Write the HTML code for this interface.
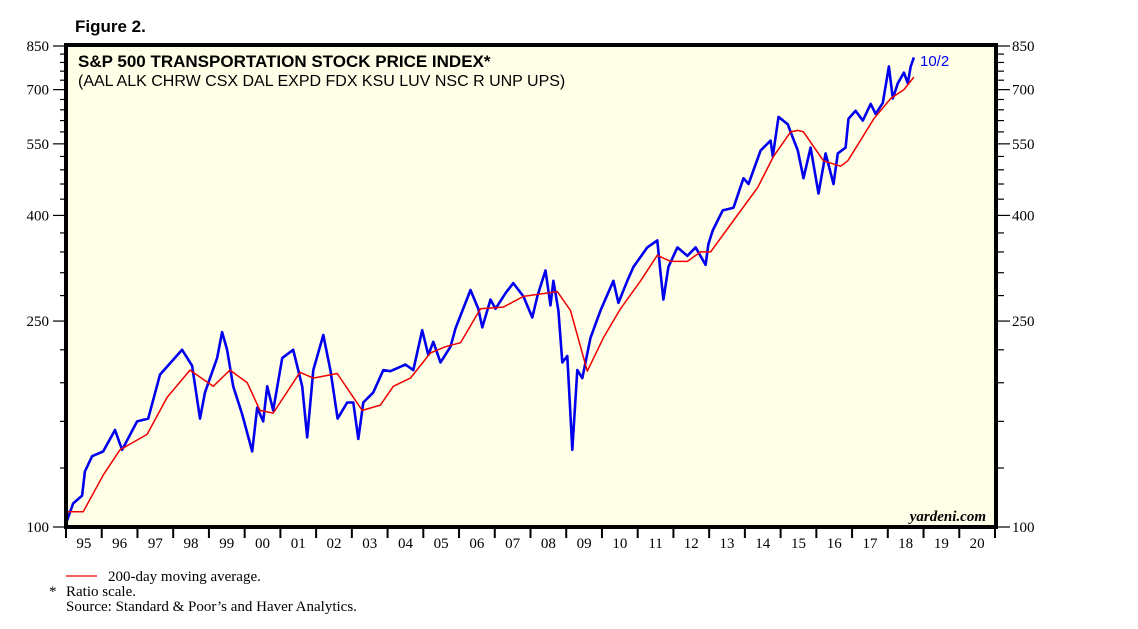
<!DOCTYPE html>
<html><head><meta charset="utf-8"><style>
body{margin:0;background:#fff;width:1138px;height:629px;overflow:hidden}
svg{display:block}
</style></head><body>
<svg id="chart" width="1138" height="629" xmlns="http://www.w3.org/2000/svg">
<text x="75" y="32" font-family="Liberation Sans, sans-serif" font-size="17" font-weight="bold">Figure 2.</text>
<rect x="66" y="45" width="930" height="482" fill="#FFFFE8"/>
<g id="axes"></g>
<g id="series"></g>
<rect x="66" y="45" width="930" height="482" fill="none" stroke="#000" stroke-width="4"/>
<text x="78" y="67" font-family="Liberation Sans, sans-serif" font-size="17" font-weight="bold">S&amp;P 500 TRANSPORTATION STOCK PRICE INDEX*</text>
<text x="78" y="86" font-family="Liberation Sans, sans-serif" font-size="16">(AAL ALK CHRW CSX DAL EXPD FDX KSU LUV NSC R UNP UPS)</text>
<text x="920" y="66" font-family="Liberation Sans, sans-serif" font-size="15" fill="#0000ee">10/2</text>
<text x="986" y="521" text-anchor="end" font-family="Liberation Serif, serif" font-size="15" font-weight="bold" font-style="italic">yardeni.com</text>
<line x1="66" y1="576" x2="97" y2="576" stroke="#e00" stroke-width="1.2"/>
<text x="108" y="581" font-family="Liberation Serif, serif" font-size="15">200-day moving average.</text>
<text x="49" y="596" font-family="Liberation Serif, serif" font-size="15">*</text>
<text x="66" y="596" font-family="Liberation Serif, serif" font-size="15">Ratio scale.</text>
<text x="66" y="611" font-family="Liberation Serif, serif" font-size="15">Source: Standard &amp; Poor’s and Haver Analytics.</text>
</svg>
<script>
const priceDates=[1995.03,1995.2,1995.45,1995.53,1995.73,1996.04,1996.37,1996.57,1996.99,1997.3,1997.63,1998.25,1998.53,1998.75,1998.89,1999.23,1999.37,1999.51,1999.68,1999.93,2000.21,2000.35,2000.52,2000.63,2000.8,2001.05,2001.36,2001.61,2001.75,2001.92,2002.2,2002.4,2002.6,2002.87,2003.04,2003.18,2003.32,2003.6,2003.88,2004.08,2004.5,2004.72,2004.97,2005.14,2005.28,2005.48,2005.76,2005.9,2006.32,2006.54,2006.65,2006.88,2007.02,2007.3,2007.52,2007.8,2008.05,2008.19,2008.42,2008.56,2008.64,2008.78,2008.89,2009.03,2009.17,2009.31,2009.45,2009.68,2009.96,2010.32,2010.46,2010.71,2010.88,2011.27,2011.55,2011.64,2011.72,2011.86,2012.11,2012.39,2012.62,2012.9,2012.98,2013.1,2013.38,2013.68,2013.96,2014.1,2014.44,2014.72,2014.78,2014.94,2015.2,2015.28,2015.48,2015.64,2015.84,2016.06,2016.26,2016.48,2016.6,2016.82,2016.9,2017.1,2017.3,2017.52,2017.66,2017.86,2018.03,2018.14,2018.28,2018.45,2018.56,2018.64,2018.73];
const priceValues=[103,111,115,128,137,140,154,141,160,162,197,220,205,162,182,212,238,220,187,165,140,170,160,187,168,212,220,187,149,201,235,201,162,174,174,148,174,182,201,200,206,201,240,215,228,208,223,242,287,264,243,275,264,283,296,279,254,279,313,268,299,262,208,214,141,201,194,232,262,299,271,299,318,347,358,309,275,318,347,334,347,321,352,374,409,414,472,460,534,558,520,620,600,580,534,472,541,441,527,460,527,541,615,637,610,657,628,660,776,673,720,755,720,776,808];
const maDates=[1995.03,1995.48,1996.04,1996.51,1997.27,1997.83,1998.47,1999.12,1999.59,2000.07,2000.43,2000.8,2001.55,2001.92,2002.59,2003.29,2003.8,2004.16,2004.64,2005.2,2005.62,2006.04,2006.6,2007.24,2007.8,2008.75,2009.12,2009.59,2010.04,2010.52,2011.08,2011.55,2011.92,2012.39,2012.76,2013.04,2013.68,2014.36,2014.8,2015.28,2015.48,2015.64,2016.2,2016.68,2016.88,2017.61,2018.08,2018.45,2018.73];
const maValues=[107,107,126,141,151,178,201,187,201,190,168,166,199,194,198,168,172,187,194,217,223,227,264,266,279,285,262,200,232,264,299,335,326,326,340,340,391,453,520,580,584,580,510,498,510,615,673,700,740];
const yTicks=[100,250,400,550,700,850];
const yearLabels=['95','96','97','98','99','00','01','02','03','04','05','06','07','08','09','10','11','12','13','14','15','16','17','18','19','20'];

const NS='http://www.w3.org/2000/svg';
const X0=66,X1=995,Y0=527,Y1=46,V0=100,V1=850,T0=1995,T1=2021;
function xs(t){return X0+(t-T0)/(T1-T0)*(X1-X0);}
function ys(v){return Y0-(Math.log(v)-Math.log(V0))/(Math.log(V1)-Math.log(V0))*(Y0-Y1);}
function mk(tag,attrs,parent){const e=document.createElementNS(NS,tag);for(const k in attrs)e.setAttribute(k,attrs[k]);parent.appendChild(e);return e;}
const axes=document.getElementById('axes'),series=document.getElementById('series');

for(let v=100;v<=850;v+=30){
  const y=ys(v),major=yTicks.includes(v);
  const l=mk('line',{x1:major?53:60,y1:y,x2:66,y2:y,stroke:'#000','stroke-width':1.2},axes);
  
  
  const r=mk('line',{x1:996,y1:y,x2:major?1010:1004,y2:y,stroke:'#000','stroke-width':1.2},axes);
  
  
}
yTicks.forEach(v=>{
  const y=ys(v);
  const a=mk('text',{x:49,y:y+5,'text-anchor':'end','font-family':'Liberation Serif, serif','font-size':15},axes);a.textContent=v;
  
  
  const b=mk('text',{x:1012,y:y+5,'font-family':'Liberation Serif, serif','font-size':15},axes);b.textContent=v;
  
  
});
yearLabels.forEach((lab,i)=>{
  const x=xs(T0+i);
  const t=mk('line',{x1:x,y1:527,x2:x,y2:538,stroke:'#000','stroke-width':2},axes);
  
  
  const tx=mk('text',{x:xs(T0+i+0.5),y:548,'text-anchor':'middle','font-family':'Liberation Serif, serif','font-size':15},axes);tx.textContent=lab;
  
  
});
const t=mk('line',{x1:xs(T1),y1:527,x2:xs(T1),y2:538,stroke:'#000','stroke-width':2},axes);



function path(d,v){return d.map((t,i)=>(i?'L':'M')+xs(t).toFixed(1)+','+ys(v[i]).toFixed(1)).join('');}
const p=mk('path',{d:path(priceDates,priceValues),fill:'none',stroke:'#0000ee','stroke-width':2.6,'stroke-linejoin':'round'},series);


const m=mk('path',{d:path(maDates,maValues),fill:'none',stroke:'#ee0000','stroke-width':1.5,'stroke-linejoin':'round'},series);


</script>
</body></html>
